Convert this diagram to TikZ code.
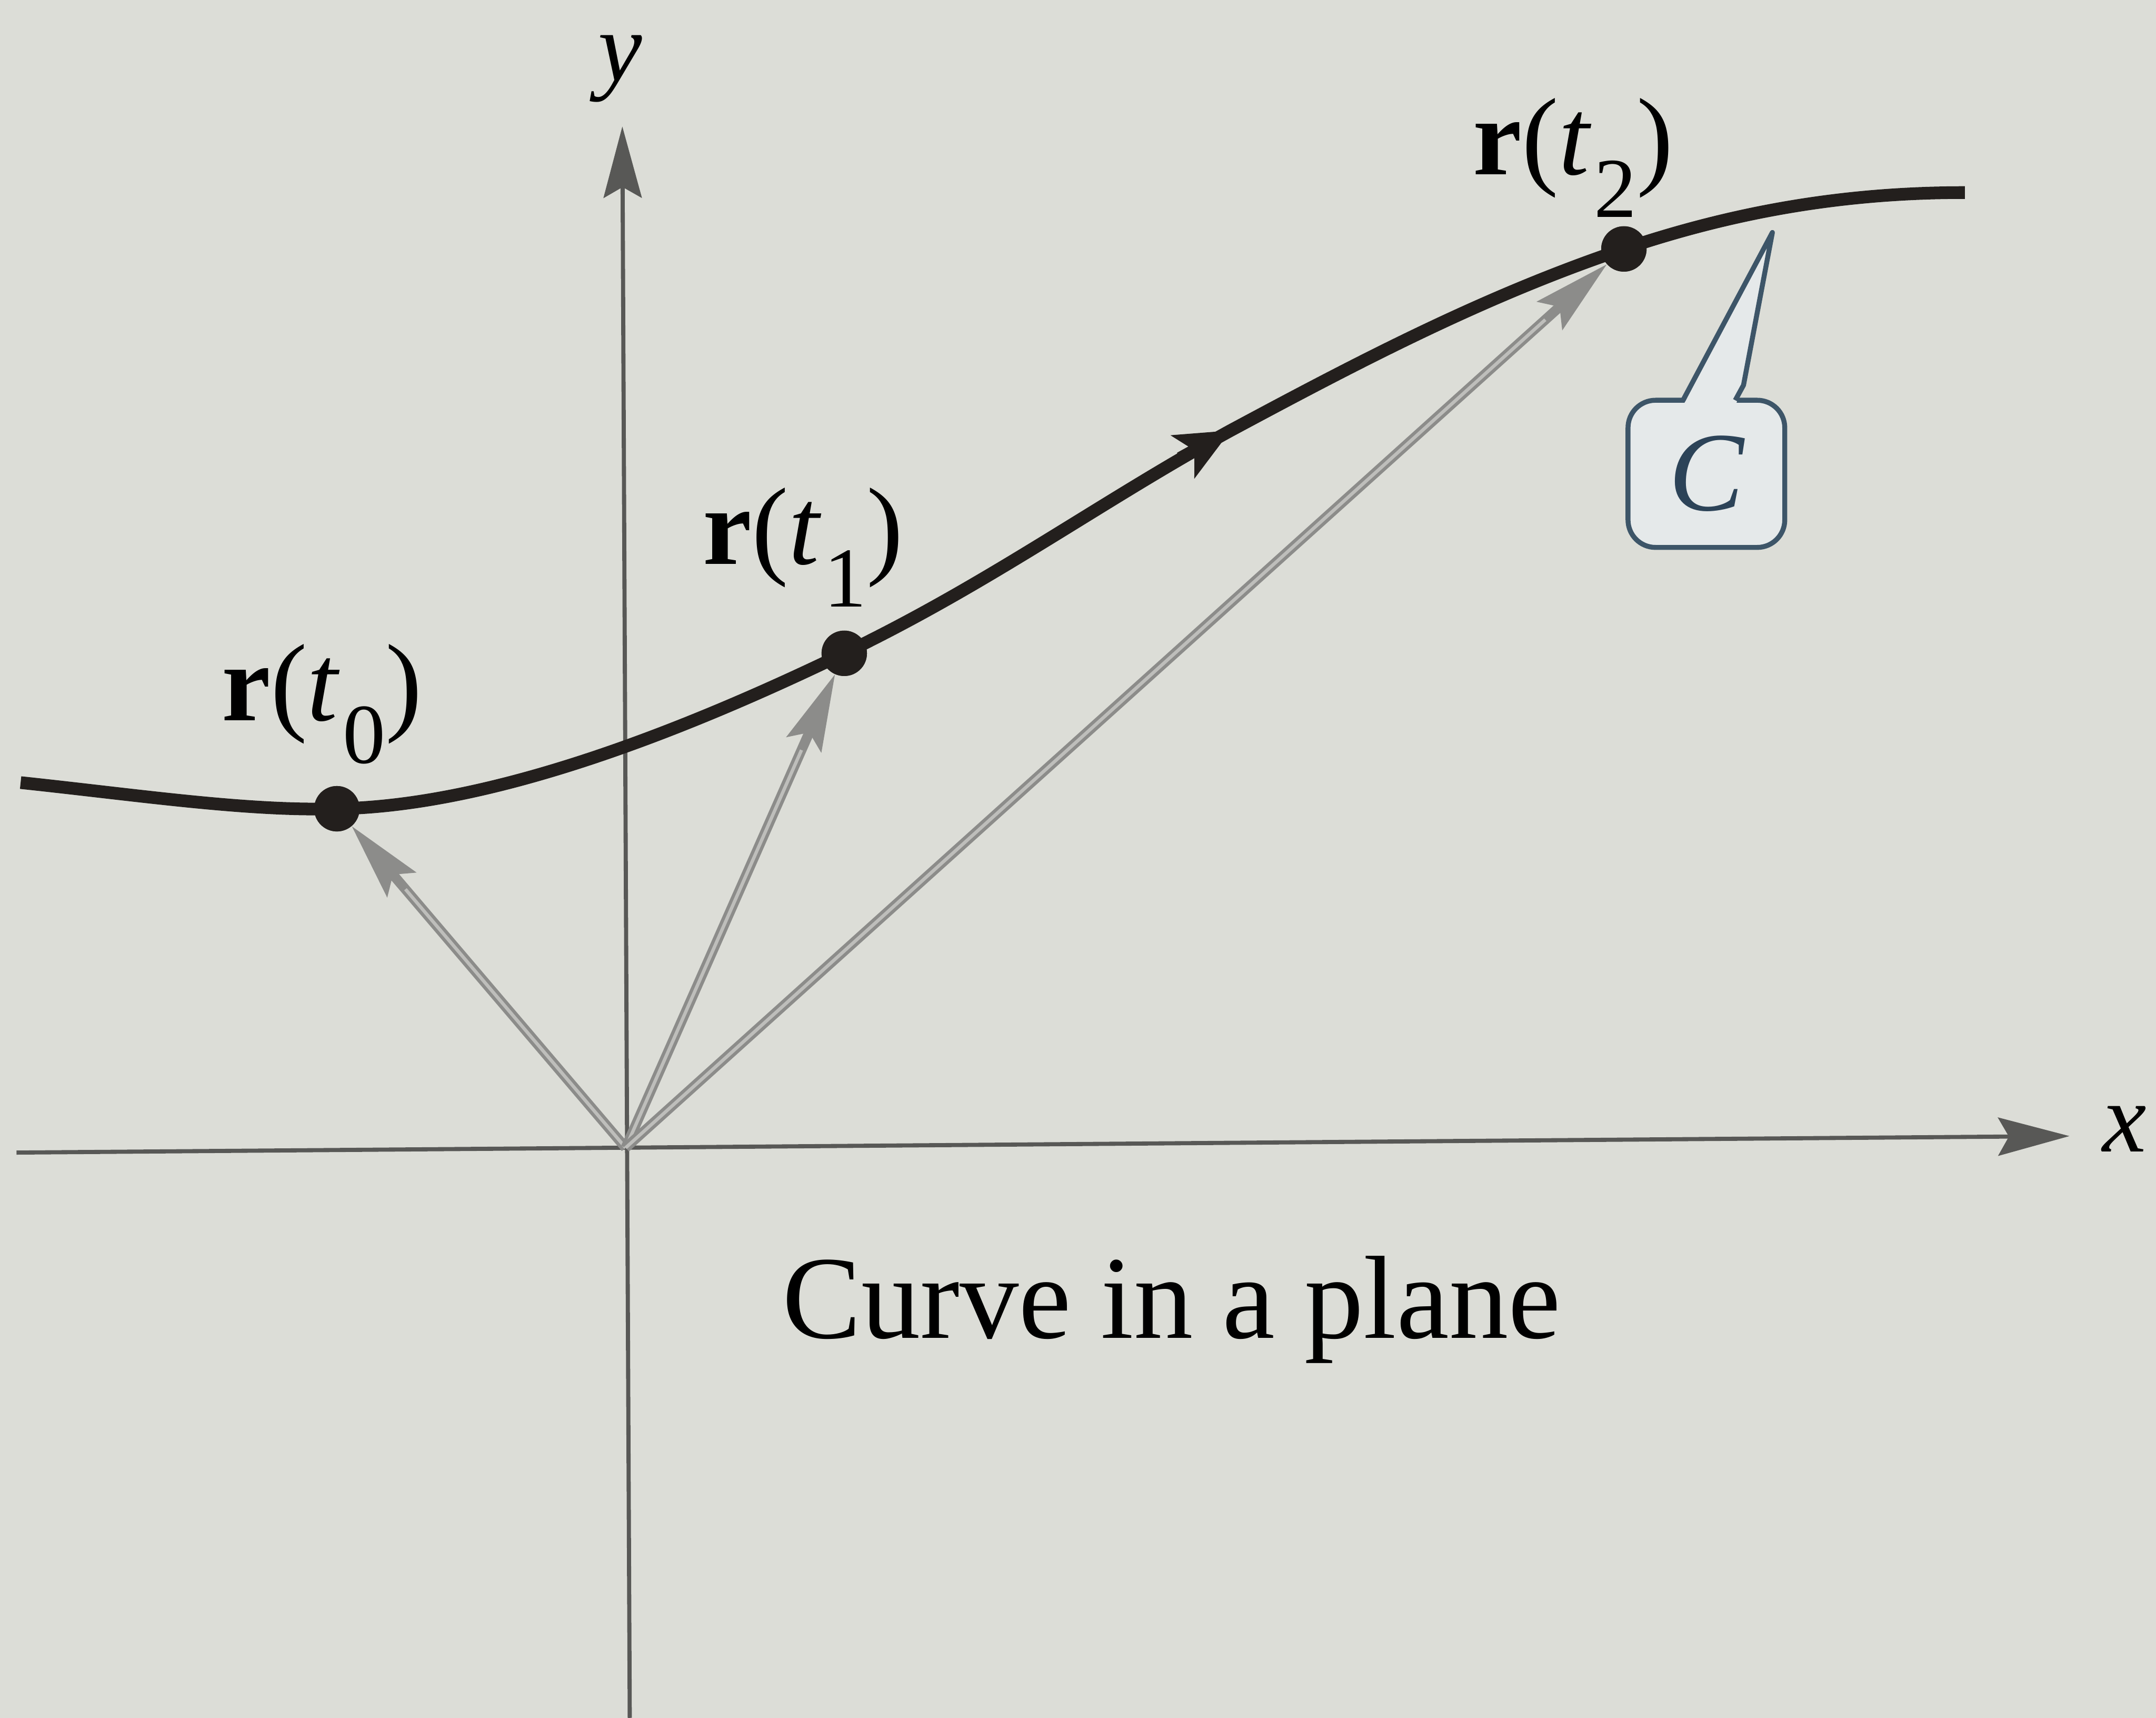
\documentclass[tikz,border=0pt]{standalone}
\usepackage{fontspec}
\setmainfont{Liberation Serif}
\usetikzlibrary{arrows.meta}
\definecolor{bg}{RGB}{220,221,215}
\definecolor{curvecol}{RGB}{35,31,29}
\definecolor{axiscol}{RGB}{88,88,86}
\definecolor{veccol}{RGB}{140,140,138}
\definecolor{veclight}{RGB}{190,190,187}
\definecolor{callstroke}{RGB}{61,85,104}
\definecolor{callfill}{RGB}{229,233,234}
\definecolor{calltext}{RGB}{44,67,88}
\newcommand\rlab[1]{\textbf{r}(\textit{t}\kern1pt\raisebox{-15.5pt}{\fontsize{31}{31}\selectfont #1})}
\begin{document}
\begin{tikzpicture}[x=0.5pt,y=-0.5pt,
  axisline/.style={draw=axiscol,line width=1.5pt},
  axistip/.style={-{Stealth[length=26pt,width=14pt,inset=4pt,line width=0.4pt]}},
  vecline/.style={draw=veccol,line width=3.6pt,-{Stealth[length=28pt,width=14pt,inset=5pt,line width=0.4pt]}},
  vecinner/.style={draw=veclight,line width=1.2pt},
  curveline/.style={draw=curvecol,line width=4.6pt},
  curvetip/.style={-{Stealth[length=20pt,width=18pt,inset=5pt,line width=0.4pt]}},
  dotnode/.style={circle,fill=curvecol,minimum size=16.5pt,inner sep=0pt},
  rlabel/.style={anchor=base west,inner sep=0pt,font=\fontsize{40}{44}\selectfont},
  axlabel/.style={inner sep=0pt,font=\fontsize{36}{40}\selectfont\itshape},
  calloutbox/.style={draw=callstroke,fill=callfill,line width=1.8pt,rounded corners=10pt,
    minimum width=57pt,minimum height=53.5pt,inner sep=0pt,text=calltext,
    font=\fontsize{41}{44}\selectfont\itshape},
  calloutline/.style={draw=callstroke,line width=1.8pt,line join=round},
  caption/.style={anchor=base,inner sep=0pt,font=\fontsize{43}{48}\selectfont}
]
\fill[bg] (0,0) rectangle (1568,1249);
\useasboundingbox (0,0) rectangle (1568,1249);

% axes
\coordinate (xl) at (12,838);
\coordinate (xr) at (1505,826);
\coordinate (yb) at (458,1249);
\coordinate (yt) at (452.6,92);
\coordinate (O) at (455,834.5);
\draw[axisline,axistip] (xl) -- (xr);
\draw[axisline,axistip] (yb) -- (yt);
\node[axlabel] (xlab) at (1545,821) {x};
\node[axlabel] (ylab) at (451,50) {y};

% dots
\node[dotnode] (p0) at (245,588) {};
\node[dotnode] (p1) at (614,475) {};
\node[dotnode] (p2) at (1181,181) {};

% position vectors
\foreach \p in {p0,p1,p2}{
  \draw[vecline] (O) -- (\p);
  \draw[vecinner,shorten >=30pt] (O) -- (\p);
}

% curve
\coordinate (c0) at (15,569);
\coordinate (ca) at (895,313);
\coordinate (c9) at (1429,140);
\draw[curveline]
  (c0) .. controls (100,578) and (180,590) .. (p0.center)
       .. controls (360,586) and (500,530) .. (p1.center)
       .. controls (720,424) and (800,365) .. (ca)
       .. controls (990,262) and (1080,215) .. (p2.center)
       .. controls (1270,151) and (1350,140) .. (c9);
\coordinate (cb) at (858.2,333.2);
\draw[curveline,curvetip] (cb) -- (ca);

% redraw dots on top
\node[dotnode] at (p0) {};
\node[dotnode] at (p1) {};
\node[dotnode] at (p2) {};

% labels
\node[rlabel] (l0) at (161,524) {\rlab{0}};
\node[rlabel] (l1) at (511,410) {\rlab{1}};
\node[rlabel] (l2) at (1071,127) {\rlab{2}};

% callout
\node[calloutbox] (C) at (1241,344.5) {C};
\coordinate (tipC) at (1289,169);
\coordinate (bl) at (1224,291);
\coordinate (br) at (1262,291);
\coordinate (kink) at (1268,280);
\fill[callfill] (1224,295) -- (tipC) -- (kink) -- (1262,295) -- cycle;
\draw[calloutline] (bl) -- (tipC) -- (kink) -- (br);

% caption
\node[caption] (cap) at (852,973) {Curve in a plane};
\end{tikzpicture}
\end{document}
